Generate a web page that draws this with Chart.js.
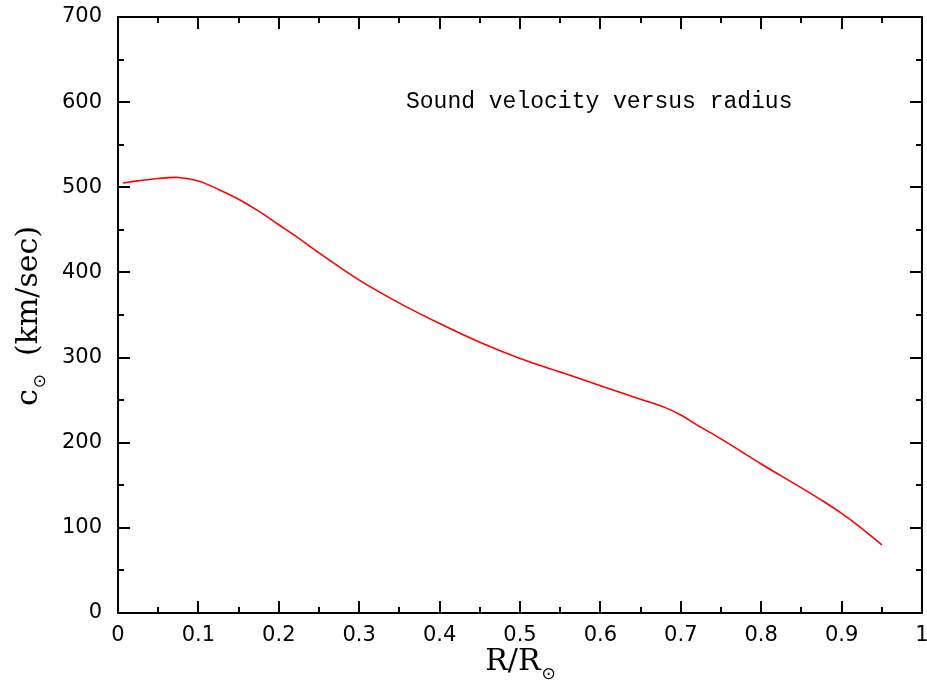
<!DOCTYPE html>
<html>
<head>
<meta charset="utf-8">
<script src="https://cdn.jsdelivr.net/npm/chart.js@4/dist/chart.umd.min.js"></script>
<style>
html,body{margin:0;padding:0;background:#fff;}
#wrap{width:927px;height:684px;position:relative;}
</style>
</head>
<body>
<div id="wrap"><canvas id="c" width="927" height="684"></canvas></div>
<script>
// Data
const radius = [0.006, 0.025, 0.05, 0.075, 0.10, 0.125, 0.15, 0.175, 0.20, 0.225, 0.25, 0.30, 0.35, 0.40, 0.45, 0.50, 0.55, 0.60, 0.65, 0.68, 0.70, 0.72, 0.75, 0.80, 0.85, 0.875, 0.90, 0.925, 0.95];
const soundSpeed = [505, 507.5, 510.3, 511.5, 507.5, 497.5, 486, 472, 456, 440, 423, 391, 364, 340, 318, 299, 283, 267, 251, 241.5, 232.5, 221, 204.5, 175, 147, 132.5, 117, 99.5, 80];
const xTicks = [0, 0.1, 0.2, 0.3, 0.4, 0.5, 0.6, 0.7, 0.8, 0.9, 1];
const yTicks = [0, 100, 200, 300, 400, 500, 600, 700];
const plotTitle = "Sound velocity versus radius";
const xTitle = ["R/R", "⊙"];
const yTitle = ["c", "⊙", "  (km/sec)"];

const points = radius.map((r, i) => ({x: r, y: soundSpeed[i]}));

const MAIN_FONT = '30px "DejaVu Serif", "Liberation Serif", serif';
const SUB_FONT = '17px "DejaVu Sans", sans-serif';

const framePlugin = {
  id: 'frame',
  afterDraw(chart) {
    const ctx = chart.ctx;
    const a = chart.chartArea;
    const xs = chart.scales.x, ys = chart.scales.y;
    ctx.save();
    ctx.strokeStyle = '#000';
    ctx.lineWidth = 2;
    ctx.strokeRect(a.left, a.top, a.right - a.left, a.bottom - a.top);
    ctx.beginPath();
    const MAJ = 12, MIN = 6;
    for (let v = 0; v <= 1.0001; v += 0.05) {
      const vv = Math.round(v * 100) / 100;
      const px = Math.round(xs.getPixelForValue(vv));
      const major = Math.abs(vv * 10 - Math.round(vv * 10)) < 1e-6;
      const L = major ? MAJ : MIN;
      ctx.moveTo(px, a.bottom); ctx.lineTo(px, a.bottom - L);
      ctx.moveTo(px, a.top); ctx.lineTo(px, a.top + L);
    }
    for (let v = 0; v <= 700; v += 50) {
      const py = Math.round(ys.getPixelForValue(v));
      const L = (v % 100 === 0) ? MAJ : MIN;
      ctx.moveTo(a.left, py); ctx.lineTo(a.left + L, py);
      ctx.moveTo(a.right, py); ctx.lineTo(a.right - L, py);
    }
    ctx.stroke();

    // plot annotation title
    ctx.fillStyle = '#000';
    ctx.font = '23px "Liberation Mono", "DejaVu Sans Mono", monospace';
    ctx.textAlign = 'left';
    ctx.textBaseline = 'alphabetic';
    ctx.fillText(plotTitle, 406, 108);

    // x axis title
    ctx.font = MAIN_FONT;
    const w1 = ctx.measureText(xTitle[0]).width;
    ctx.font = SUB_FONT;
    const w2 = ctx.measureText(xTitle[1]).width;
    const cx = (a.left + a.right) / 2;
    let sx = cx - (w1 + w2) / 2;
    ctx.font = MAIN_FONT;
    ctx.fillText(xTitle[0], sx, 670);
    ctx.font = SUB_FONT;
    ctx.fillText(xTitle[1], sx + w1 + 1, 679);

    // y axis title (rotated)
    ctx.translate(37, 316);
    ctx.rotate(-Math.PI / 2);
    ctx.font = MAIN_FONT;
    const c1 = ctx.measureText(yTitle[0]).width;
    const c3 = ctx.measureText(yTitle[2]).width;
    ctx.font = SUB_FONT;
    const c2 = ctx.measureText(yTitle[1]).width;
    let ty = -(c1 + c2 + c3) / 2;
    ctx.font = MAIN_FONT;
    ctx.fillText(yTitle[0], ty, 0);
    ctx.font = SUB_FONT;
    ctx.fillText(yTitle[1], ty + c1 + 1, 8);
    ctx.font = MAIN_FONT;
    ctx.fillText(yTitle[2], ty + c1 + c2, 0);
    ctx.restore();
  }
};

new Chart(document.getElementById('c'), {
  type: 'line',
  data: {
    datasets: [{
      data: points,
      borderColor: '#ff0000',
      borderWidth: 1.6,
      pointRadius: 0,
      fill: false,
      tension: 0.35
    }]
  },
  options: {
    responsive: false,
    animation: false,
    layout: {padding: {top: 17, right: 5, left: 0, bottom: 0}},
    plugins: {legend: {display: false}, tooltip: {enabled: false}, title: {display: false}},
    scales: {
      x: {
        type: 'linear', min: 0, max: 1,
        afterBuildTicks(s) { s.ticks = xTicks.map(v => ({value: v})); },
        afterFit(s) { s.height = 71; s.paddingLeft = 0; s.paddingRight = 0; },
        grid: {display: false, drawTicks: false},
        border: {display: false},
        ticks: {
          padding: 10, color: '#000', maxRotation: 0, autoSkip: false,
          font: {family: '"DejaVu Sans", sans-serif', size: 21},
          callback: v => String(Math.round(v * 10) / 10)
        }
      },
      y: {
        type: 'linear', min: 0, max: 700,
        afterBuildTicks(s) { s.ticks = yTicks.map(v => ({value: v})); },
        afterFit(s) { s.width = 118; s.paddingTop = 0; s.paddingBottom = 0; },
        grid: {display: false, drawTicks: false},
        border: {display: false},
        ticks: {
          padding: 16, color: '#000',
          font: {family: '"DejaVu Sans", sans-serif', size: 21},
          callback: v => String(v)
        }
      }
    }
  },
  plugins: [framePlugin]
});
</script>
</body>
</html>
